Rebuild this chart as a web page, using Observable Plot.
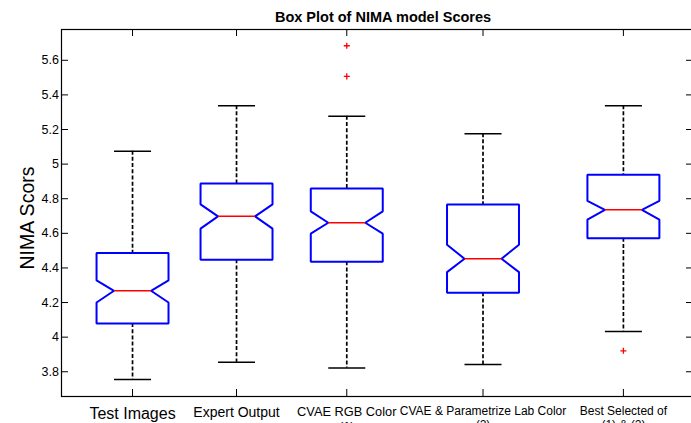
<!DOCTYPE html>
<html><head><meta charset="utf-8">
<script src="https://cdn.jsdelivr.net/npm/d3@7"></script>
<script src="https://cdn.jsdelivr.net/npm/@observablehq/plot@0.6"></script>
<style>body{margin:0;background:#fff} svg{display:block}</style>
</head><body><div id="chart"></div>
<script>
// ---- data ----
const categories = ["Test Images", "Expert Output", "CVAE RGB Color\n(1)", "CVAE & Parametrize Lab Color\n(2)", "Best Selected of\n(1) & (2)"];
const xPos      = [1, 2, 3.06, 4.37, 5.72];
const whiskerLo = [3.755, 3.855, 3.821, 3.842, 4.033];
const q1        = [4.079, 4.447, 4.436, 4.257, 4.572];
const notchLo   = [4.200, 4.627, 4.598, 4.376, 4.679];
const median    = [4.268, 4.698, 4.661, 4.453, 4.736];
const notchHi   = [4.328, 4.767, 4.727, 4.534, 4.788];
const q3        = [4.486, 4.888, 4.859, 4.767, 4.939];
const whiskerHi = [5.075, 5.338, 5.276, 5.176, 5.338];
const outlierGroup = [2, 2, 4];
const outlierValue = [5.684, 5.507, 3.921];
const yTicks = [3.8, 4, 4.2, 4.4, 4.6, 4.8, 5, 5.2, 5.4, 5.6];

// ---- styling ----
const labelSize = [16, 14, 12.8, 12, 12];
const W = 0.346, WN = 0.178, CW = 0.178;

const boxes = categories.map((c, i) => ({
  i, label: c, x: xPos[i], lo: whiskerLo[i], q1: q1[i], nlo: notchLo[i],
  med: median[i], nhi: notchHi[i], q3: q3[i], hi: whiskerHi[i]
}));
const outline = boxes.flatMap(b => [
  [b.x, b.q3], [b.x + W, b.q3], [b.x + W, b.nhi], [b.x + WN, b.med], [b.x + W, b.nlo],
  [b.x + W, b.q1], [b.x - W, b.q1], [b.x - W, b.nlo], [b.x - WN, b.med], [b.x - W, b.nhi],
  [b.x - W, b.q3], [b.x, b.q3]
].map(([x, y]) => ({g: b.i, x, y})));
const outliers = outlierValue.map((v, k) => ({x: xPos[outlierGroup[k]], y: v}));

const chart = Plot.plot({
  width: 691, height: 423,
  marginLeft: 61, marginRight: -2, marginTop: 29, marginBottom: 27,
  style: {fontFamily: "'Liberation Sans', Arial, sans-serif", fontSize: "12.5px", color: "black", background: "white"},
  x: {domain: [0.317, 6.394], axis: null},
  y: {domain: [3.657, 5.778], axis: null},
  marks: [
    Plot.frame({strokeWidth: 1.2}),
    Plot.tickY(yTicks, {y: d => d, insetRight: 625, strokeWidth: 1}),
    Plot.tickY(yTicks, {y: d => d, insetLeft: 625, strokeWidth: 1}),
    Plot.tickX(xPos, {x: d => d, insetBottom: 360, strokeWidth: 1}),
    Plot.tickX(xPos, {x: d => d, insetTop: 360, strokeWidth: 1}),
    Plot.ruleX(boxes, {x: "x", y1: "hi", y2: "q3", stroke: "black", strokeWidth: 1.7, strokeDasharray: "4,2.2"}),
    Plot.ruleX(boxes, {x: "x", y1: "q1", y2: "lo", stroke: "black", strokeWidth: 1.7, strokeDasharray: "4,2.2"}),
    Plot.link(boxes, {x1: d => d.x - CW, x2: d => d.x + CW, y1: "hi", y2: "hi", stroke: "black", strokeWidth: 1.5}),
    Plot.link(boxes, {x1: d => d.x - CW, x2: d => d.x + CW, y1: "lo", y2: "lo", stroke: "black", strokeWidth: 1.5}),
    Plot.line(outline, {x: "x", y: "y", z: "g", stroke: "#0000ff", strokeWidth: 2, strokeLinejoin: "miter"}),
    Plot.link(boxes, {x1: d => d.x - WN, x2: d => d.x + WN, y1: "med", y2: "med", stroke: "#ff0000", strokeWidth: 1.5}),
    Plot.dot(outliers, {x: "x", y: "y", symbol: "plus", r: 2.1, stroke: "#ff0000", strokeWidth: 1.3}),
    Plot.axisY({ticks: yTicks, tickSize: 0, tickPadding: 2.5, tickFormat: d => String(d), label: null, fontSize: 12.5}),
    Plot.text(boxes, {x: "x", text: "label", frameAnchor: "bottom", lineAnchor: "top", dy: 9, fontSize: d => labelSize[d.i], lineHeight: 1.15, fill: "black"}),
    Plot.text(["Box Plot of NIMA model Scores"], {frameAnchor: "top", lineAnchor: "bottom", dy: -7.5, dx: 5.5, fontWeight: "bold", fontSize: 14.5, fill: "black"}),
    Plot.text(["NIMA Scors"], {frameAnchor: "left", textAnchor: "middle", rotate: -90, lineAnchor: "bottom", dx: -28, dy: 5, fontSize: 19.5, fill: "black"})
  ]
});
document.getElementById("chart").appendChild(chart);
</script>
</body></html>
